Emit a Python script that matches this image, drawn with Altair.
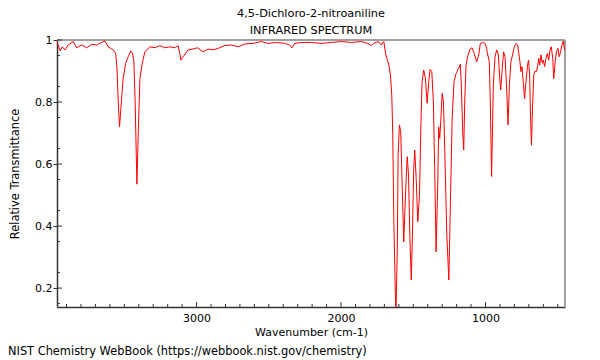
import altair as alt
import pandas as pd

# Spectrum trace (wavenumber cm-1, relative transmittance)
wavenumber = [
    3966, 3945, 3929, 3911, 3888, 3853, 3830, 3795, 3761, 3726, 3692, 3657, 3634,
    3611, 3577, 3560, 3551, 3542, 3533, 3524, 3508, 3491, 3473, 3455, 3443, 3434,
    3425, 3413, 3404, 3392, 3376, 3358, 3323, 3289, 3254, 3220, 3185, 3151, 3128,
    3116, 3109, 3093, 3059, 3024, 2994, 2955, 2920, 2886, 2851, 2805, 2759, 2713,
    2667, 2609, 2552, 2506, 2448, 2390, 2356, 2340, 2321, 2275, 2206, 2137, 2068,
    1998, 1929, 1860, 1815, 1791, 1775, 1757, 1741, 1722, 1704, 1692, 1683, 1669,
    1658, 1649, 1642, 1635, 1625, 1620, 1611, 1605, 1596, 1587, 1577, 1566, 1554,
    1542, 1533, 1524, 1514, 1506, 1497, 1490, 1480, 1469, 1457, 1448, 1439, 1428,
    1416, 1404, 1393, 1384, 1372, 1361, 1352, 1342, 1331, 1324, 1317, 1310, 1300,
    1291, 1282, 1268, 1254, 1243, 1231, 1218, 1204, 1186, 1174, 1167, 1158, 1151,
    1144, 1135, 1124, 1107, 1093, 1077, 1061, 1047, 1036, 1020, 1003, 992, 988,
    974, 967, 958, 953, 946, 934, 923, 911, 902, 895, 886, 875, 865, 854, 844,
    835, 824, 813, 801, 789, 778, 771, 762, 755, 748, 739, 730, 720, 709, 702,
    695, 689, 682, 675, 666, 657, 648, 638, 632, 625, 616, 607, 600, 591, 582,
    572, 563, 554, 545, 535, 528, 518, 509, 499, 490, 481, 471, 462, 453,
]
transmittance = [
    0.995, 0.965, 0.978, 0.968, 0.984, 0.995, 0.975, 0.984, 0.975, 0.986, 0.984, 0.992, 0.997,
    0.978, 0.968, 0.957, 0.909, 0.80, 0.72, 0.78, 0.876, 0.925, 0.946, 0.965, 0.957, 0.93,
    0.80, 0.535, 0.694, 0.876, 0.925, 0.962, 0.978, 0.975, 0.982, 0.975, 0.978, 0.975, 0.982,
    0.957, 0.935, 0.946, 0.968, 0.971, 0.975, 0.962, 0.971, 0.968, 0.973, 0.982, 0.984, 0.978,
    0.987, 0.989, 0.995, 0.989, 0.992, 0.989, 0.984, 0.975, 0.989, 0.992, 0.992, 0.989, 0.992,
    0.995, 0.992, 0.995, 0.989, 0.982, 0.989, 0.992, 0.995, 0.984, 0.995, 0.957, 0.941, 0.919,
    0.887, 0.823, 0.694, 0.425, 0.20, 0.12, 0.317, 0.629, 0.726, 0.704, 0.532, 0.349, 0.50,
    0.624, 0.565, 0.371, 0.226, 0.371, 0.586, 0.645, 0.554, 0.414, 0.50, 0.715, 0.866, 0.903,
    0.876, 0.796, 0.866, 0.905, 0.898, 0.80, 0.586, 0.317, 0.532, 0.72, 0.683, 0.737, 0.828,
    0.80, 0.64, 0.371, 0.226, 0.478, 0.747, 0.866, 0.892, 0.909, 0.922, 0.844, 0.704, 0.645,
    0.80, 0.919, 0.946, 0.971, 0.975, 0.954, 0.93, 0.952, 0.989, 0.992, 0.989, 0.973, 0.96,
    0.93, 0.80, 0.56, 0.68, 0.855, 0.946, 0.968, 0.952, 0.876, 0.839, 0.898, 0.962, 0.946, 0.844, 0.726,
    0.855, 0.93, 0.952, 0.978, 0.989, 0.984, 0.962, 0.93, 0.898, 0.914, 0.866, 0.81, 0.866, 0.919, 0.935,
    0.887, 0.758, 0.661, 0.78, 0.887, 0.90, 0.898, 0.919, 0.941, 0.919, 0.952, 0.925, 0.935, 0.914, 0.941,
    0.957, 0.935, 0.968, 0.978, 0.941, 0.875, 0.93, 0.962, 0.973, 0.946, 0.962, 0.984, 0.997, 0.968,
]

x_labels = [1000, 2000, 3000]
x_minor = [v for v in range(500, 4000, 100) if v % 1000 != 0]
y_labels = [0.2, 0.4, 0.6, 0.8, 1.0]
y_minor = [0.15, 0.25, 0.35, 0.45, 0.55, 0.65, 0.75, 0.85, 0.95]

title_lines = ["4,5-Dichloro-2-nitroaniline", "INFRARED SPECTRUM"]
x_title = "Wavenumber (cm-1)"
y_title = "Relative Transmittance"
footer = "NIST Chemistry WebBook (https://webbook.nist.gov/chemistry)"

W, H = 508, 267
FONT = "DejaVu Sans"
AXIS_COLOR = "#333333"

df = pd.DataFrame({"wn": wavenumber, "t": transmittance})

xscale = alt.Scale(domain=[450, 3966], reverse=True, nice=False, zero=False)
yscale = alt.Scale(domain=[0.139, 1.0], nice=False, zero=False)

line = alt.Chart(df).mark_line(color="#ff0000", strokeWidth=1, clip=True).encode(
    x=alt.X("wn:Q", scale=xscale, title=x_title,
            axis=alt.Axis(values=x_labels, format="d", ticks=False, grid=False, labelFont=FONT,
                          labelFontSize=11, labelColor="black", labelPadding=5,
                          domainColor=AXIS_COLOR, domainWidth=1.5,
                          titleFont=FONT, titleFontSize=11, titleFontWeight="normal",
                          titleColor="black", titleBaseline="middle", titleY=25)),
    y=alt.Y("t:Q", scale=yscale, title=y_title,
            axis=alt.Axis(values=y_labels, format="~g", grid=False, labelFont=FONT,
                          labelFontSize=11, labelColor="black", labelPadding=1,
                          tickSize=4, tickColor=AXIS_COLOR, tickWidth=1,
                          domainColor=AXIS_COLOR, domainWidth=1.5,
                          titleFont=FONT, titleFontSize=11.4, titleFontWeight="normal",
                          titleColor="black", titleBaseline="middle", titleX=-42,
                          titleAngle=270)),
)

xminor_df = pd.DataFrame({"v": x_minor})
xmajor_df = pd.DataFrame({"v": x_labels})
yminor_df = pd.DataFrame({"v": y_minor})
ymajor_df = pd.DataFrame({"v": y_labels})

xminor_ticks = alt.Chart(xminor_df).mark_rule(color=AXIS_COLOR, strokeWidth=1).encode(
    x=alt.X("v:Q", scale=xscale), y=alt.value(H), y2=alt.value(H - 3))
xmajor_ticks = alt.Chart(xmajor_df).mark_rule(color=AXIS_COLOR, strokeWidth=1).encode(
    x=alt.X("v:Q", scale=xscale), y=alt.value(H), y2=alt.value(H - 5))
yminor_ticks = alt.Chart(yminor_df).mark_rule(color=AXIS_COLOR, strokeWidth=1).encode(
    y=alt.Y("v:Q", scale=yscale), x=alt.value(0), x2=alt.value(3))
ymajor_ticks = alt.Chart(ymajor_df).mark_rule(color=AXIS_COLOR, strokeWidth=1).encode(
    y=alt.Y("v:Q", scale=yscale), x=alt.value(0), x2=alt.value(5))

one = alt.Data(values=[{"a": 1}])
top_border = alt.Chart(one).mark_rule(color="#a0a0a0", strokeWidth=2).encode(
    x=alt.value(0), x2=alt.value(W), y=alt.value(0))
right_border = alt.Chart(one).mark_rule(color="#a0a0a0", strokeWidth=2).encode(
    x=alt.value(W), y=alt.value(0), y2=alt.value(H))
footer_text = alt.Chart(one).mark_text(
    align="left", baseline="middle", fontSize=11.4, font=FONT, color="black").encode(
    x=alt.value(-49), y=alt.value(312), text=alt.value(footer))

chart = alt.layer(
    top_border, right_border, line,
    xminor_ticks, xmajor_ticks, yminor_ticks, ymajor_ticks, footer_text,
).properties(
    width=W, height=H,
    title=alt.TitleParams(title_lines, font=FONT, fontSize=11.3, fontWeight="normal",
                          anchor="middle", lineHeight=17, offset=-2, color="black"),
    padding={"left": 49, "top": 32, "right": 27, "bottom": 52},
    autosize="none",
).configure_view(stroke="transparent")

chart.save("out.html", embed_options={"renderer": "svg", "actions": False})
